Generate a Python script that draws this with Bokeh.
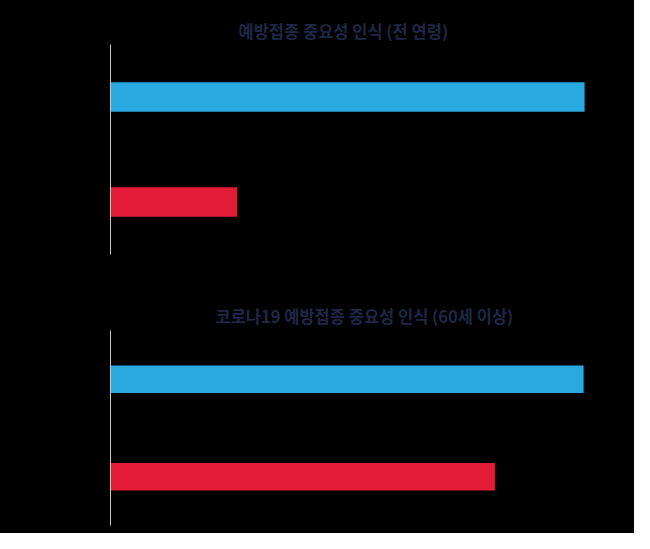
from bokeh.plotting import figure
from bokeh.layouts import column
from bokeh.embed import file_html
from bokeh.resources import INLINE

# categories (labels are not visible in the picture)
categories = ["중요하다", "중요하지 않다"]
bar_colors = ["#2aa9e0", "#e31b37"]

# values (share of respondents, %)
all_ages = [95.2, 25.4]
over_60 = [95.0, 77.2]

titles = ["예방접종 중요성 인식 (전 연령)", "코로나19 예방접종 중요성 인식 (60세 이상)"]

FONT = "Noto Sans CJK KR"


def make_panel(title, values, height, border_top, border_bottom, border_left, border_right,
               standoff, title_offset):
    factors = list(reversed(categories))
    p = figure(y_range=factors, x_range=(0, 100), width=634, height=height,
               title=title, output_backend="svg", toolbar_location=None,
               min_border_top=border_top, min_border_bottom=border_bottom,
               min_border_left=border_left, min_border_right=border_right)
    p.y_range.range_padding = 0
    p.hbar(y=categories, right=values, left=0, height=0.28,
           color=bar_colors, line_color=None)

    p.background_fill_color = "black"
    p.border_fill_color = "black"
    p.outline_line_color = None
    p.grid.visible = False
    p.xaxis.visible = False

    p.yaxis.axis_line_color = "#c8c8c8"
    p.yaxis.axis_line_width = 1
    p.yaxis.major_tick_line_color = None
    p.yaxis.minor_tick_line_color = None
    p.yaxis.major_label_text_color = None
    p.yaxis.major_label_text_font_size = "0px"
    p.yaxis.major_label_standoff = 0

    p.title.align = "left"
    p.title.offset = title_offset
    p.title.text_color = "#1f2747"
    p.title.text_font = FONT
    p.title.text_font_size = "16.5px"
    p.title.text_font_style = "bold"
    p.title.standoff = standoff
    return p


top = make_panel(titles[0], all_ages, 277, 44, 23, 110, 24, 3, 128)
bottom = make_panel(titles[1], over_60, 256, 53, 8, 108, 26, 5, 105)

layout = column(top, bottom, spacing=0)
layout.background = "black"

open("out.html", "w").write(file_html(layout, INLINE))
